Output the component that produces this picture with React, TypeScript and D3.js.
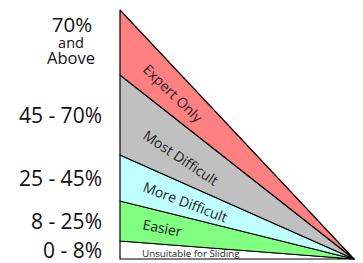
import React from "react";
import * as d3 from "d3";

// grade boundaries (percent), bottom to top
const breaks = [0, 8, 25, 45, 70, 100];
const gradeLabels = ["0 - 8%", "8 - 25%", "25 - 45%", "45 - 70%"];
const topLabel = ["70%", "and", "Above"];
const bandNames = ["Unsuitable for Sliding", "Easier", "More Difficult", "Most Difficult", "Expert Only"];
const bandColors = ["#ffffff", "#80ff80", "#c0ffff", "#c0c0c0", "#ff8080"];

const W = 363;
const H = 263;
const x0 = 120;
const x1 = 354;
const yTop = 10;
const yBot = 259;

export default function App() {
  // the left edge is not drawn to true slope, so map grade -> edge height piecewise
  const y = d3.scaleLinear()
    .domain(breaks)
    .range([yBot, 241, 201, 155, 75, yTop]);

  const line = d3.line<[number, number]>();
  const font = "'Open Sans', sans-serif";

  // y of the boundary line for grade g at horizontal position x
  const edgeAt = (g: number, x: number) => y(g) + (x - x0) * (yBot - y(g)) / (x1 - x0);
  const angleOf = (g: number) => Math.atan((yBot - y(g)) / (x1 - x0)) * 180 / Math.PI;

  const bands = bandNames.map((name, i) => {
    const lo = breaks[i], hi = breaks[i + 1];
    const pts: [number, number][] = [[x0, y(lo)], [x0, y(hi)], [x1, yBot]];
    const tx = 142;
    const yu = edgeAt(hi, tx), yl = edgeAt(lo, tx);
    const ty = i === 0 ? yBot - 2 : yu + 0.63 * (yl - yu);
    const a = i === 0 ? 0 : angleOf(lo) + 0.7 * (angleOf(hi) - angleOf(lo));
    return { name, d: line(pts) + "Z", color: bandColors[i], tx, ty, a, i };
  });

  const topMid = (y(breaks[4]) + y(breaks[5])) / 2;

  return (
    <svg width={W} height={H} style={{ position: "absolute", left: 0, top: 0 }}>
      {bands.map(b => (
        <path key={b.name} d={b.d} fill={b.color} stroke="#000" strokeWidth={1.2} strokeLinejoin="round" />
      ))}
      {bands.map(b => (
        <text key={"t" + b.name}
          transform={`translate(${b.tx},${b.ty}) rotate(${b.a})`}
          fontFamily={font} fontSize={b.i === 0 ? 9.8 : 14} fill="#222">
          {b.name}
        </text>
      ))}
      {gradeLabels.map((t, i) => (
        <text key={t} x={102} y={(y(breaks[i]) + y(breaks[i + 1])) / 2}
          dy="0.36em" textAnchor="end" fontFamily={font} fontSize={21} fill="#111">
          {t}
        </text>
      ))}
      <text x={72} textAnchor="middle" fontFamily={font} fill="#111">
        <tspan x={72} y={topMid - 11} fontSize={20.5}>{topLabel[0]}</tspan>
        <tspan x={71} y={topMid + 5} fontSize={14.5}>{topLabel[1]}</tspan>
        <tspan x={71} y={topMid + 21} fontSize={16.5}>{topLabel[2]}</tspan>
      </text>
    </svg>
  );
}
